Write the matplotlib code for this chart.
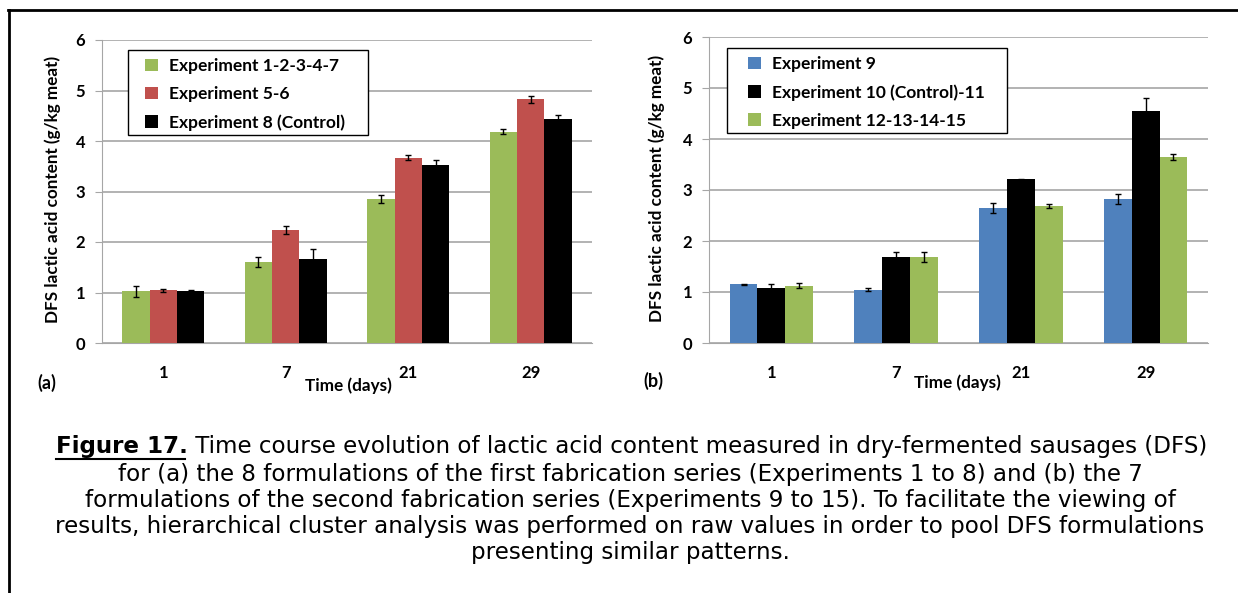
import numpy as np
import matplotlib
matplotlib.use('Agg')
import matplotlib.pyplot as plt
from matplotlib.lines import Line2D
from matplotlib.patches import Rectangle

# Data
DAYS = ["1", "7", "21", "29"]

A_LABELS = ["Experiment 1-2-3-4-7", "Experiment 5-6", "Experiment 8 (Control)"]
A_VALUES = [[1.02, 1.61, 2.86, 4.18],
            [1.04, 2.23, 3.67, 4.83],
            [1.02, 1.66, 3.53, 4.44]]
A_ERRORS = [[0.10, 0.10, 0.08, 0.05],
            [0.03, 0.08, 0.05, 0.07],
            [0.03, 0.21, 0.10, 0.08]]

B_LABELS = ["Experiment 9", "Experiment 10 (Control)-11", "Experiment 12-13-14-15"]
B_VALUES = [[1.15, 1.04, 2.65, 2.82],
            [1.07, 1.69, 3.21, 4.54],
            [1.12, 1.69, 2.69, 3.64]]
B_ERRORS = [[0.01, 0.03, 0.10, 0.10],
            [0.08, 0.10, 0.01, 0.27],
            [0.05, 0.10, 0.04, 0.06]]

GREEN, RED, BLUE, BLACK = '#9BBB59', '#C0504D', '#4F81BD', '#000000'
A_COLORS = [GREEN, RED, BLACK]
B_COLORS = [BLUE, BLACK, GREEN]

CAPTION_BOLD = "Figure 17."
CAPTION = [" Time course evolution of lactic acid content measured in dry-fermented sausages (DFS)",
           "for (a) the 8 formulations of the first fabrication series (Experiments 1 to 8) and (b) the 7",
           "formulations of the second fabrication series (Experiments 9 to 15). To facilitate the viewing of",
           "results, hierarchical cluster analysis was performed on raw values in order to pool DFS formulations",
           "presenting similar patterns."]

W, H = 1238, 593
CHART_FONT = ['Lato', 'DejaVu Sans']
CAP_FONT = ['DejaVu Sans']

fig = plt.figure(figsize=(W / 100, H / 100), dpi=100)


def fx(px):
    return px / W


def fy(py):
    return 1 - py / H


def draw_panel(rect, values, errors, colors, labels, leg_box, leg_xy, tag, tag_xy, ylab_x, xlab_xy):
    left, top, right, bottom = rect
    ax = fig.add_axes([fx(left), fy(bottom), fx(right - left), (bottom - top) / H])
    x = np.arange(len(DAYS))
    w = 0.223
    for i in range(3):
        ax.bar(x + (i - 1) * w, values[i], w, color=colors[i], label=labels[i], zorder=3,
               yerr=errors[i], error_kw=dict(ecolor='black', elinewidth=1, capsize=2, capthick=1, zorder=4))
    ax.set_xlim(-0.5, len(DAYS) - 0.5)
    ax.set_ylim(0, 6)
    ax.set_yticks(range(7))
    ax.yaxis.grid(True, color='#A6A6A6', linewidth=1.2, zorder=0)
    ax.set_axisbelow(True)
    for s in ['top', 'right']:
        ax.spines[s].set_visible(False)
    ax.spines['left'].set_color('#A6A6A6')
    ax.spines['bottom'].set_color('#A6A6A6')
    ax.tick_params(axis='y', colors='#A6A6A6', length=5, pad=7, labelcolor='black')
    ax.tick_params(axis='x', length=0, pad=16)
    ax.set_xticks(x)
    ax.set_xticklabels(DAYS)
    for lab in ax.get_xticklabels() + ax.get_yticklabels():
        lab.set_family(CHART_FONT)
        lab.set_fontweight('bold')
        lab.set_fontsize(12)

    # legend: white box with black edge, entries placed inside it
    lx0, ly0, lx1, ly1 = leg_box
    fig.add_artist(Rectangle((fx(lx0), fy(ly1)), fx(lx1 - lx0), (ly1 - ly0) / H,
                             transform=fig.transFigure, facecolor='white', edgecolor='black',
                             linewidth=1.0, zorder=2))
    handles, labs = ax.get_legend_handles_labels()
    fig.legend(handles, labs, loc='upper left', bbox_to_anchor=(fx(leg_xy[0]), fy(leg_xy[1])),
               frameon=False, borderpad=0, borderaxespad=0, handlelength=0.75, handleheight=0.75,
               handletextpad=0.65, labelspacing=0.7,
               prop=dict(family=CHART_FONT, weight='bold', size=12.5))

    fig.text(fx(ylab_x), fy((top + bottom) / 2 - 2), "DFS lactic acid content (g/kg meat)",
             rotation=90, ha='center', va='center', family=CHART_FONT, weight='bold', fontsize=12.3)
    fig.text(fx(xlab_xy[0]), fy(xlab_xy[1]), "Time (days)", ha='center', va='center',
             family=CHART_FONT, weight='bold', fontsize=12.3)
    fig.text(fx(tag_xy[0]), fy(tag_xy[1]), tag, ha='left', va='center',
             family=CHART_FONT, weight='bold', fontsize=13)
    return ax


draw_panel((102, 40, 592, 343), A_VALUES, A_ERRORS, A_COLORS, A_LABELS,
           (128, 50, 368, 135), (145, 58), "(a)", (37, 383), 53, (348, 386))
draw_panel((709, 37, 1208, 343), B_VALUES, B_ERRORS, B_COLORS, B_LABELS,
           (727, 48, 1007, 133), (748, 56), "(b)", (643, 381), 657, (957, 383))

# Caption
renderer = fig.canvas.get_renderer()
line_y = [447, 474, 500, 527, 553]
cap_size = 16.6
tb = fig.text(0, fy(line_y[0]), CAPTION_BOLD, ha='left', va='center', family=CAP_FONT,
              weight='bold', fontsize=cap_size)
t1 = fig.text(0, fy(line_y[0]), CAPTION[0], ha='left', va='center', family=CAP_FONT,
              fontsize=cap_size)
wb = tb.get_window_extent(renderer).width
w1 = t1.get_window_extent(renderer).width
x0 = (632 - (wb + w1) / 2)
tb.set_x(fx(x0))
t1.set_x(fx(x0 + wb))
fig.add_artist(Line2D([fx(x0), fx(x0 + wb - 3)], [fy(line_y[0] + 12)] * 2, color='black', linewidth=1.5))
for yy, line in zip(line_y[1:], CAPTION[1:]):
    fig.text(fx(630), fy(yy), line, ha='center', va='center', family=CAP_FONT, fontsize=cap_size)

# Border of the figure frame
fig.add_artist(Line2D([fx(8), 1], [fy(10), fy(10)], color='black', linewidth=2))
fig.add_artist(Line2D([fx(9), fx(9)], [fy(10), 0], color='black', linewidth=2))

fig.savefig('out.png', dpi=100)
